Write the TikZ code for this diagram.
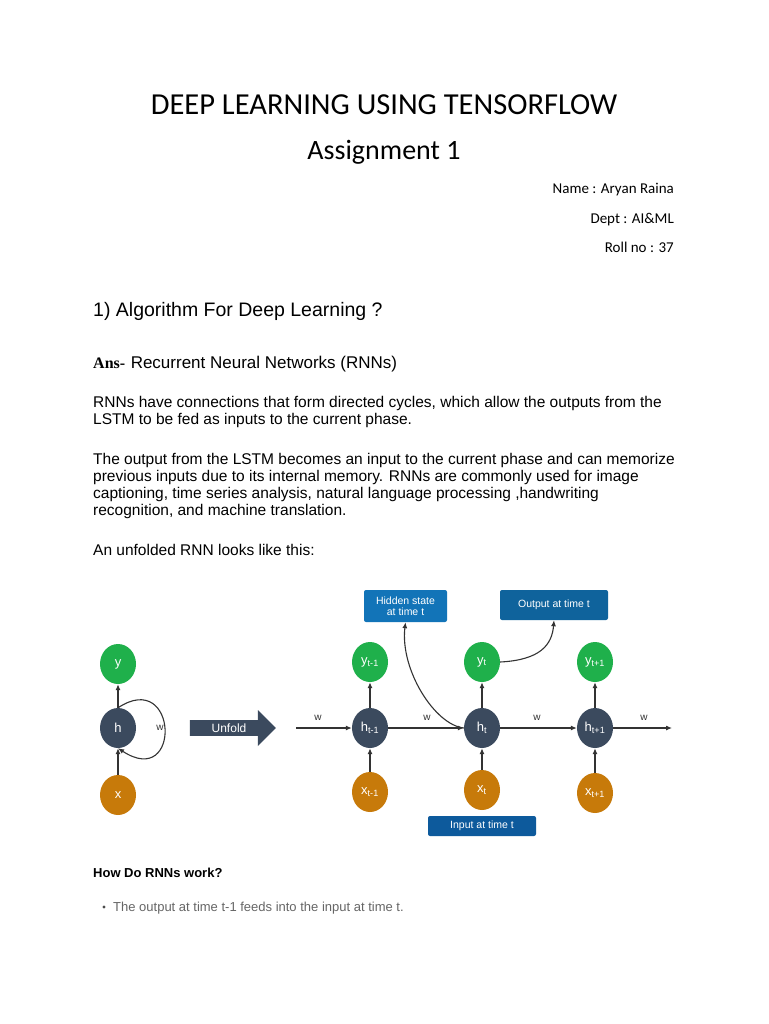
\documentclass[tikz,border=0pt]{standalone}
\usepackage{fontspec}
\setmainfont{Liberation Sans}
\newfontfamily\calfont{Carlito}
\newfontfamily\serifb{Liberation Serif}
\usetikzlibrary{arrows.meta,shapes.arrows,shapes.geometric}
\definecolor{gr}{HTML}{1FB04B}
\definecolor{nv}{HTML}{3B4A5E}
\definecolor{og}{HTML}{C77A0A}
\definecolor{bb}{HTML}{1274B8}
\definecolor{ib}{HTML}{0D5A9C}
\definecolor{ar}{HTML}{333333}
\tikzset{
 cir/.style={ellipse, minimum width=36pt, minimum height=40pt, inner sep=0pt, text=white, font=\fontsize{13}{14}\selectfont},
 gn/.style={cir, fill=gr}, hn/.style={cir, fill=nv}, xn/.style={cir, fill=og},
 bx/.style={rounded corners=2pt, text=white, align=center, font=\fontsize{10.5}{11.5}\selectfont, inner sep=0pt},
 arr/.style={draw=ar, line width=1.1pt, -{Latex[length=6pt,width=5pt]}},
 wl/.style={font=\fontsize{10}{11}\selectfont, text=ar},
 body/.style={anchor=base west, align=left, font=\fontsize{15.5}{16.8}\selectfont, inner sep=0pt}
}
\begin{document}
\begin{tikzpicture}[x=1pt,y=-1pt]
\useasboundingbox[fill=white] (0,0) rectangle (768,1024);
\node[font=\calfont\fontsize{30.5}{32}\selectfont] (t1) at (384,105) {DEEP LEARNING USING TENSORFLOW};
\node[font=\calfont\fontsize{28}{30}\selectfont] (t2) at (384,152) {Assignment 1};
\node[anchor=base east, font=\calfont\fontsize{15}{16}\selectfont, inner sep=0pt] (n1) at (674,194) {Name : Aryan Raina};
\node[anchor=base east, font=\calfont\fontsize{15}{16}\selectfont, inner sep=0pt] (n2) at (674,223) {Dept : AI\&ML};
\node[anchor=base east, font=\calfont\fontsize{15}{16}\selectfont, inner sep=0pt] (n3) at (674,252) {Roll no : 37};
\node[anchor=base west, font=\fontsize{19.5}{22}\selectfont, inner sep=0pt] (q1) at (93,316) {1) Algorithm For Deep Learning ?};
\node[anchor=base west, inner sep=0pt] (ans) at (93,368) {{\serifb\bfseries\fontsize{16}{18}\selectfont Ans-}\ \ {\fontsize{17}{19}\selectfont Recurrent Neural Networks (RNNs)}};
\node[body] (p1) at (93,424) {RNNs have connections that form directed cycles, which allow the outputs from the\\LSTM to be fed as inputs to the current phase.};
\node[body] (p2) at (93,515) {The output from the LSTM becomes an input to the current phase and can memorize\\previous inputs due to its internal memory. RNNs are commonly used for image\\captioning, time series analysis, natural language processing ,handwriting\\recognition, and machine translation.};
\node[body] (p3) at (93,555) {An unfolded RNN looks like this:};
\node[anchor=base west, inner sep=0pt, font=\bfseries\fontsize{13}{15}\selectfont] (hw) at (93,877) {How Do RNNs work?};
\node[anchor=base west, inner sep=0pt, font=\fontsize{13}{15}\selectfont, text=black!60] (b1) at (113,911) {The output at time t-1 feeds into the input at time t.};
\fill[black!70] (104,907) circle (1.6);
% diagram
\node[gn] (y) at (118,664) {y};
\node[hn] (h) at (118,728) {h};
\node[xn] (x) at (118,795) {x};
\draw[arr] (x) -- (h); \draw[arr] (h) -- (y);
\draw[arr] (h.north) .. controls (178,668) and (182,790) .. (h.south);
\node[wl] (w0) at (160,728) {w};
\node[single arrow, fill=nv, minimum height=86pt, minimum width=36pt, single arrow head extend=6pt, single arrow tip angle=90, inner sep=0pt, text=white, font=\fontsize{12}{13}\selectfont, anchor=center] (unf) at (229,728) {Unfold\hspace{12pt}};
\node[gn] (y1) at (370,662) {y\textsubscript{t-1}};
\node[hn] (h1) at (370,728) {h\textsubscript{t-1}};
\node[xn] (x1) at (370,792) {x\textsubscript{t-1}};
\node[gn] (y2) at (482,662) {y\textsubscript{t}};
\node[hn] (h2) at (482,728) {h\textsubscript{t}};
\node[xn] (x2) at (482,790) {x\textsubscript{t}};
\node[gn] (y3) at (595,662) {y\textsubscript{t+1}};
\node[hn] (h3) at (595,728) {h\textsubscript{t+1}};
\node[xn] (x3) at (595,793) {x\textsubscript{t+1}};
\foreach \i in {1,2,3}{\draw[arr] (x\i) -- (h\i); \draw[arr] (h\i) -- (y\i);}
\coordinate (s0) at (296,728); \coordinate (e4) at (672,728);
\draw[arr] (s0) -- (h1.west); \draw[arr] (h1) -- (h2); \draw[arr] (h2) -- (h3); \draw[arr] (h3) -- (e4);
\node[wl] at (318,718) {w}; \node[wl] at (427,718) {w}; \node[wl] at (537,718) {w}; \node[wl] at (644,718) {w};
\node[bx, fill=bb, minimum width=83pt, minimum height=32pt] (hs) at (405.5,606) {Hidden state\\at time t};
\node[bx, fill=bb!85!black, minimum width=108pt, minimum height=30pt] (ot) at (554,605) {Output at time t};
\node[bx, fill=ib, minimum width=108pt, minimum height=20pt] (it) at (482,826) {Input at time t};
\draw[arr] (h2.west) .. controls (435,725) and (400,670) .. (hs.south);
\draw[arr] (y2.east) .. controls (540,660) and (552,645) .. (ot.south);
\end{tikzpicture}
\end{document}
